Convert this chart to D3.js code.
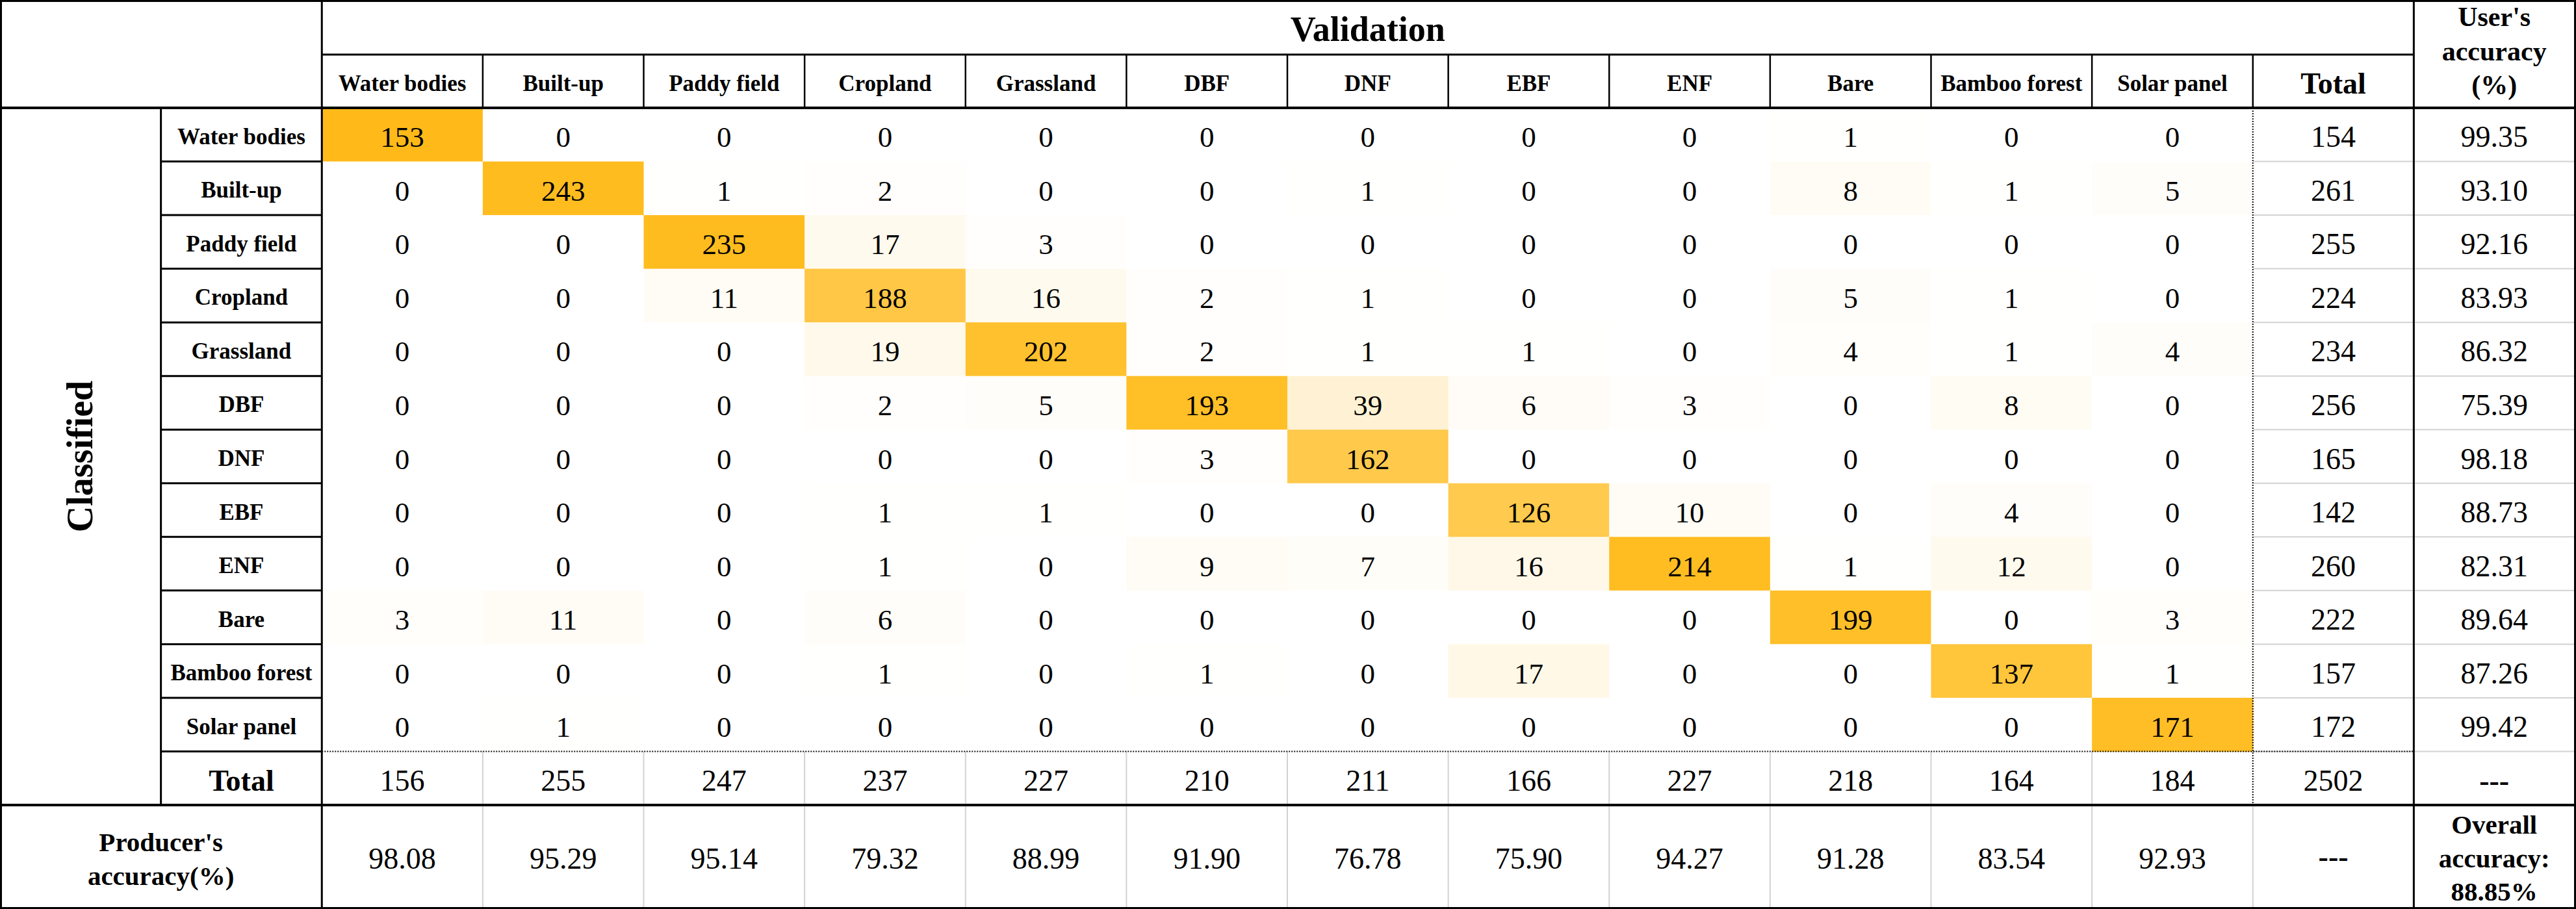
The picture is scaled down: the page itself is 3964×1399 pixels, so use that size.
<!DOCTYPE html>
<html>
<head>
<meta charset="utf-8">
<script src="https://cdn.jsdelivr.net/npm/d3@7"></script>
<style>
  html, body { margin: 0; padding: 0; background: #ffffff; }
  svg { display: block; }
</style>
</head>
<body>
<svg id="chart" width="3964" height="1399"></svg>
<script>
// ---------------- DATA ----------------
const classes = ["Water bodies", "Built-up", "Paddy field", "Cropland", "Grassland", "DBF",
                 "DNF", "EBF", "ENF", "Bare", "Bamboo forest", "Solar panel"];
const matrix = [
  [153, 0, 0, 0, 0, 0, 0, 0, 0, 1, 0, 0],
  [0, 243, 1, 2, 0, 0, 1, 0, 0, 8, 1, 5],
  [0, 0, 235, 17, 3, 0, 0, 0, 0, 0, 0, 0],
  [0, 0, 11, 188, 16, 2, 1, 0, 0, 5, 1, 0],
  [0, 0, 0, 19, 202, 2, 1, 1, 0, 4, 1, 4],
  [0, 0, 0, 2, 5, 193, 39, 6, 3, 0, 8, 0],
  [0, 0, 0, 0, 0, 3, 162, 0, 0, 0, 0, 0],
  [0, 0, 0, 1, 1, 0, 0, 126, 10, 0, 4, 0],
  [0, 0, 0, 1, 0, 9, 7, 16, 214, 1, 12, 0],
  [3, 11, 0, 6, 0, 0, 0, 0, 0, 199, 0, 3],
  [0, 0, 0, 1, 0, 1, 0, 17, 0, 0, 137, 1],
  [0, 1, 0, 0, 0, 0, 0, 0, 0, 0, 0, 171]
];
const rowTotals = [154, 261, 255, 224, 234, 256, 165, 142, 260, 222, 157, 172];
const colTotals = [156, 255, 247, 237, 227, 210, 211, 166, 227, 218, 164, 184];
const grandTotal = 2502;
const userAccuracy = ["99.35", "93.10", "92.16", "83.93", "86.32", "75.39", "98.18", "88.73", "82.31", "89.64", "87.26", "99.42"];
const producerAccuracy = ["98.08", "95.29", "95.14", "79.32", "88.99", "91.90", "76.78", "75.90", "94.27", "91.28", "83.54", "92.93"];
const overallAccuracyLines = ["Overall", "accuracy:", "88.85%"];
const userHeaderLines = ["User's", "accuracy", "(%)"];
const producerHeaderLines = ["Producer's", "accuracy(%)"];

// ---------------- LAYOUT ----------------
const W = 3964, H = 1399;
const FONT = "'Liberation Serif','Times New Roman',Times,serif";
const svg = d3.select("#chart");

const colKeys = ["classified", "label", ...classes, "Total", "UA"];
const x = d3.scaleBand().domain(colKeys).range([0, 3962]);
const rowKeys = [...classes, "Total"];
const y = d3.scaleBand().domain(rowKeys).range([166, 1239]);
const headTop = 0, headMid = 84, headBot = 166, prodBot = 1397;
const bw = x.bandwidth(), bh = y.bandwidth();
const cx = k => x(k) + bw / 2;
const cy = k => y(k) + bh / 2;

const color = d3.scaleLinear().domain([0, 1]).range(["#ffffff", "#ffb914"]).clamp(true);

// ---------------- CELLS ----------------
const cells = [];
matrix.forEach((row, i) => row.forEach((v, j) => cells.push({ r: classes[i], c: classes[j], v, f: v / colTotals[j] })));

svg.append("g").selectAll("rect").data(cells).join("rect")
  .attr("x", d => x(d.c)).attr("y", d => y(d.r))
  .attr("width", bw + 0.5).attr("height", bh + 0.5)
  .attr("fill", d => color(d.f));

// ---------------- LIGHT GREY LINES ----------------
const grey = svg.append("g").attr("stroke", "#d2d2d2").attr("stroke-width", 2);
// horizontal separators in Total / UA columns
rowKeys.slice(1).forEach(k => {
  grey.append("line").attr("x1", x("Total")).attr("x2", W).attr("y1", y(k)).attr("y2", y(k));
});
// vertical separators in total and producer rows
classes.slice(1).forEach(k => {
  grey.append("line").attr("x1", x(k)).attr("x2", x(k)).attr("y1", y("Total")).attr("y2", prodBot);
});
grey.append("line").attr("x1", x("Total")).attr("x2", x("Total")).attr("y1", y("Total") + bh).attr("y2", prodBot);

// ---------------- DOTTED LINES ----------------
const dotted = svg.append("g").attr("stroke", "#111").attr("stroke-width", 2).attr("stroke-dasharray", "2 2");
dotted.append("line").attr("x1", x(classes[0])).attr("x2", x("UA")).attr("y1", y("Total")).attr("y2", y("Total"));
dotted.append("line").attr("x1", x("Total")).attr("x2", x("Total")).attr("y1", headBot).attr("y2", y("Total") + bh);

// ---------------- BLACK LINES ----------------
const black = svg.append("g").attr("stroke", "#000");
function bl(x1, y1, x2, y2, w) {
  black.append("line").attr("x1", x1).attr("y1", y1).attr("x2", x2).attr("y2", y2).attr("stroke-width", w);
}
bl(x(classes[0]), headMid, x("UA"), headMid, 3);
bl(0, headBot, W, headBot, 4);
bl(0, y("Total") + bh, W, y("Total") + bh, 4);
bl(x(classes[0]), 0, x(classes[0]), H, 3);
bl(x("UA"), 0, x("UA"), H, 3);
bl(x("label"), headBot, x("label"), y("Total") + bh, 3);
[...classes.slice(1), "Total"].forEach(k => bl(x(k), headMid, x(k), headBot, 2.5));
rowKeys.slice(1).forEach(k => bl(x("label"), y(k), x(classes[0]), y(k), 3));
black.append("rect").attr("x", 1.5).attr("y", 1.5).attr("width", W - 3).attr("height", H - 3)
  .attr("fill", "none").attr("stroke-width", 3);

// ---------------- TEXT ----------------
const t = svg.append("g").attr("font-family", FONT).attr("fill", "#000").attr("text-anchor", "middle");

// Validation title
t.append("text").attr("x", (x(classes[0]) + x("UA")) / 2).attr("y", 63)
  .attr("font-size", 54).attr("font-weight", "bold").text("Validation");

// Column headers
t.append("g").selectAll("text").data(classes).join("text")
  .attr("x", d => cx(d)).attr("y", 140)
  .attr("font-size", 35).attr("font-weight", "bold").text(d => d);
t.append("text").attr("x", cx("Total")).attr("y", 144)
  .attr("font-size", 46).attr("font-weight", "bold").text("Total");

// User's accuracy header
t.append("g").selectAll("text").data(userHeaderLines).join("text")
  .attr("x", cx("UA")).attr("y", (d, i) => 40 + i * 52.5)
  .attr("font-size", 42).attr("font-weight", "bold").text(d => d);

// Classified
t.append("text").attr("transform", `translate(142,${(headBot + y("Total") + bh) / 2}) rotate(-90)`)
  .attr("font-size", 56).attr("font-weight", "bold").text("Classified");

// Row labels
t.append("g").selectAll("text").data(classes).join("text")
  .attr("x", cx("label")).attr("y", d => cy(d) + 14.5)
  .attr("font-size", 35).attr("font-weight", "bold").text(d => d);
t.append("text").attr("x", cx("label")).attr("y", cy("Total") + 19)
  .attr("font-size", 46).attr("font-weight", "bold").text("Total");

// Cell values
t.append("g").selectAll("text").data(cells).join("text")
  .attr("x", d => cx(d.c)).attr("y", d => cy(d.r) + 19)
  .attr("font-size", 45).text(d => d.v);

// Row totals & user accuracy
t.append("g").selectAll("text").data(rowTotals).join("text")
  .attr("x", cx("Total")).attr("y", (d, i) => cy(classes[i]) + 19)
  .attr("font-size", 46).text(d => d);
t.append("g").selectAll("text").data(userAccuracy).join("text")
  .attr("x", cx("UA")).attr("y", (d, i) => cy(classes[i]) + 19)
  .attr("font-size", 46).text(d => d);

// Column totals
t.append("g").selectAll("text").data(colTotals).join("text")
  .attr("x", (d, i) => cx(classes[i])).attr("y", cy("Total") + 19)
  .attr("font-size", 46).text(d => d);
t.append("text").attr("x", cx("Total")).attr("y", cy("Total") + 19).attr("font-size", 46).text(grandTotal);
t.append("text").attr("x", cx("UA")).attr("y", cy("Total") + 19).attr("font-size", 46).attr("font-weight", "bold").text("---");

// Producer's accuracy row
const prodTop = y("Total") + bh;
const prodMid = (prodTop + prodBot) / 2;
t.append("g").selectAll("text").data(producerHeaderLines).join("text")
  .attr("x", x(classes[0]) / 2).attr("y", (d, i) => 1310 + i * 52)
  .attr("font-size", 41).attr("font-weight", "bold").text(d => d);
t.append("g").selectAll("text").data(producerAccuracy).join("text")
  .attr("x", (d, i) => cx(classes[i])).attr("y", prodMid + 19)
  .attr("font-size", 46).text(d => d);
t.append("text").attr("x", cx("Total")).attr("y", prodMid + 16).attr("font-size", 46).attr("font-weight", "bold").text("---");
t.append("g").selectAll("text").data(overallAccuracyLines).join("text")
  .attr("x", cx("UA")).attr("y", (d, i) => 1283 + i * 51.5)
  .attr("font-size", 41).attr("font-weight", "bold").text(d => d);
</script>
</body>
</html>
